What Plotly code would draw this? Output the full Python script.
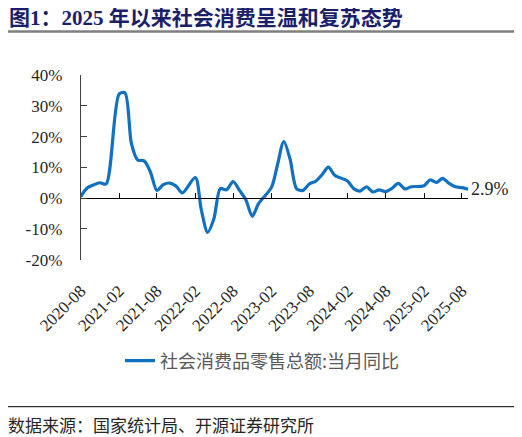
import plotly.graph_objects as go

# *** Data: monthly retail sales YoY (%), China reports Jan-Feb combined so no January ***
Months = [
    "2020-08", "2020-09", "2020-10", "2020-11", "2020-12",
    "2021-02", "2021-03", "2021-04", "2021-05", "2021-06", "2021-07", "2021-08", "2021-09", "2021-10", "2021-11", "2021-12",
    "2022-02", "2022-03", "2022-04", "2022-05", "2022-06", "2022-07", "2022-08", "2022-09", "2022-10", "2022-11", "2022-12",
    "2023-02", "2023-03", "2023-04", "2023-05", "2023-06", "2023-07", "2023-08", "2023-09", "2023-10", "2023-11", "2023-12",
    "2024-02", "2024-03", "2024-04", "2024-05", "2024-06", "2024-07", "2024-08", "2024-09", "2024-10", "2024-11", "2024-12",
    "2025-02", "2025-03", "2025-04", "2025-05", "2025-06", "2025-07", "2025-08", "2025-09",
]
Retail_YoY = [
    0.5, 3.3, 4.3, 5.0, 4.6,
    33.8, 34.2, 17.7, 12.4, 12.1, 8.5, 2.5, 4.4, 4.9, 3.9, 1.7,
    6.7, -3.5, -11.1, -6.7, 3.1, 2.7, 5.4, 2.5, -0.5, -5.9, -1.8,
    3.5, 10.6, 18.4, 12.7, 3.1, 2.5, 4.6, 5.5, 7.6, 10.1, 7.4,
    5.5, 3.1, 2.3, 3.7, 2.0, 2.7, 2.1, 3.2, 4.8, 3.0, 3.7,
    4.0, 5.9, 5.1, 6.4, 4.8, 3.7, 3.4, 2.9,
]
Tick_Labels = ["2020-08", "2021-02", "2021-08", "2022-02", "2022-08", "2023-02",
               "2023-08", "2024-02", "2024-08", "2025-02", "2025-08"]
Y_Ticks = [-20, -10, 0, 10, 20, 30, 40]

SERIES_NAME = "社会消费品零售总额:当月同比"
LINE_BLUE = "#1071C2"
CJK = "Noto Sans CJK SC"
SERIF = "Times New Roman, Liberation Serif, serif"

# Page puts the figure 8px in from the top-left, so size and place things around that
OFF = 8
W, H = 522 - OFF, 437 - OFF

def px_x(p):  # window pixel -> paper x
    return (p - OFF) / W

def px_y(p):  # window pixel -> paper y
    return 1 - (p - OFF) / H

X_DOM = [px_x(80.7), px_x(468.3)]
Y_DOM = [px_y(259.7), px_y(75)]
Y_RANGE = [-20, 40]
Zero_Pos = Y_DOM[0] + (0 - Y_RANGE[0]) / (Y_RANGE[1] - Y_RANGE[0]) * (Y_DOM[1] - Y_DOM[0])

Dates = [m + "-01" for m in Months]
Tick_Vals = [t + "-01" for t in Tick_Labels]
X_RANGE = [Dates[0], Dates[-1]]

fig = go.Figure()
fig.add_trace(go.Scatter(
    x=Dates, y=Retail_YoY, name=SERIES_NAME, mode="lines",
    line=dict(color=LINE_BLUE, width=3.2, shape="spline", smoothing=0.8),
    showlegend=True, hoverinfo="skip"))

# dummy trace so xaxis2 (the 0% line) is drawn
fig.add_trace(go.Scatter(x=X_RANGE, y=[None, None], xaxis="x2", showlegend=False, hoverinfo="skip"))

# Label at last point
fig.add_annotation(x=Dates[-1], y=Retail_YoY[-1], text="%.1f%%" % Retail_YoY[-1],
                   showarrow=False, xanchor="left", yanchor="middle", xshift=1, yshift=0,
                   font=dict(family=SERIF, size=18, color="#262626"))

# Title
fig.add_annotation(x=px_x(7), y=px_y(18), xref="paper", yref="paper",
                   text="<b>图1：2025 年以来社会消费呈温和复苏态势</b>",
                   showarrow=False, xanchor="left", yanchor="middle",
                   font=dict(family="Times New Roman, " + CJK, size=21, color="#1B1F6B"))
# Source
fig.add_annotation(x=px_x(6), y=px_y(424), xref="paper", yref="paper",
                   text="数据来源：国家统计局、开源证券研究所",
                   showarrow=False, xanchor="left", yanchor="middle",
                   font=dict(family=CJK, size=17, color="#262626"))

fig.add_shape(type="line", xref="paper", yref="paper", x0=px_x(5), x1=px_x(516),
              y0=px_y(31.5), y1=px_y(31.5), line=dict(color="#7F7F7F", width=2.5))
fig.add_shape(type="line", xref="paper", yref="paper", x0=px_x(5), x1=px_x(516),
              y0=px_y(406.7), y1=px_y(406.7), line=dict(color="#000000", width=1))

fig.update_layout(
    width=W, height=H,
    margin=dict(l=0, r=0, t=0, b=0),
    paper_bgcolor="white", plot_bgcolor="white",
    font=dict(family=SERIF, color="#262626"),
    xaxis=dict(domain=X_DOM, type="date", range=X_RANGE, tickmode="array",
               tickvals=Tick_Vals, ticktext=Tick_Labels, ticklabelstandoff=17,
               tickangle=-45, showline=False, ticks="", showgrid=False, zeroline=False,
               tickfont=dict(family=SERIF, size=17, color="#262626"), automargin=False),
    xaxis2=dict(type="date", range=X_RANGE, overlaying="x", anchor="free", position=Zero_Pos,
                tickmode="array", tickvals=Tick_Vals, showticklabels=False, showline=True,
                linecolor="#000000", linewidth=1, ticks="inside", ticklen=5, tickcolor="#000000",
                showgrid=False, zeroline=False, automargin=False),
    yaxis=dict(domain=Y_DOM, range=Y_RANGE, tickmode="array", tickvals=Y_Ticks,
               ticktext=["%d%%" % v for v in Y_Ticks],
               showline=True, linecolor="#404040", linewidth=1, ticks="inside", ticklen=6,
               tickcolor="#404040", showgrid=False, zeroline=False, ticklabelstandoff=14,
               tickfont=dict(family=SERIF, size=17, color="#262626"), automargin=False),
    legend=dict(orientation="h", x=px_x(120), y=px_y(361), xanchor="left", yanchor="middle",
                font=dict(family=CJK, size=18, color="#595959"), bgcolor="rgba(0,0,0,0)"),
)

fig.write_html("out.html")
